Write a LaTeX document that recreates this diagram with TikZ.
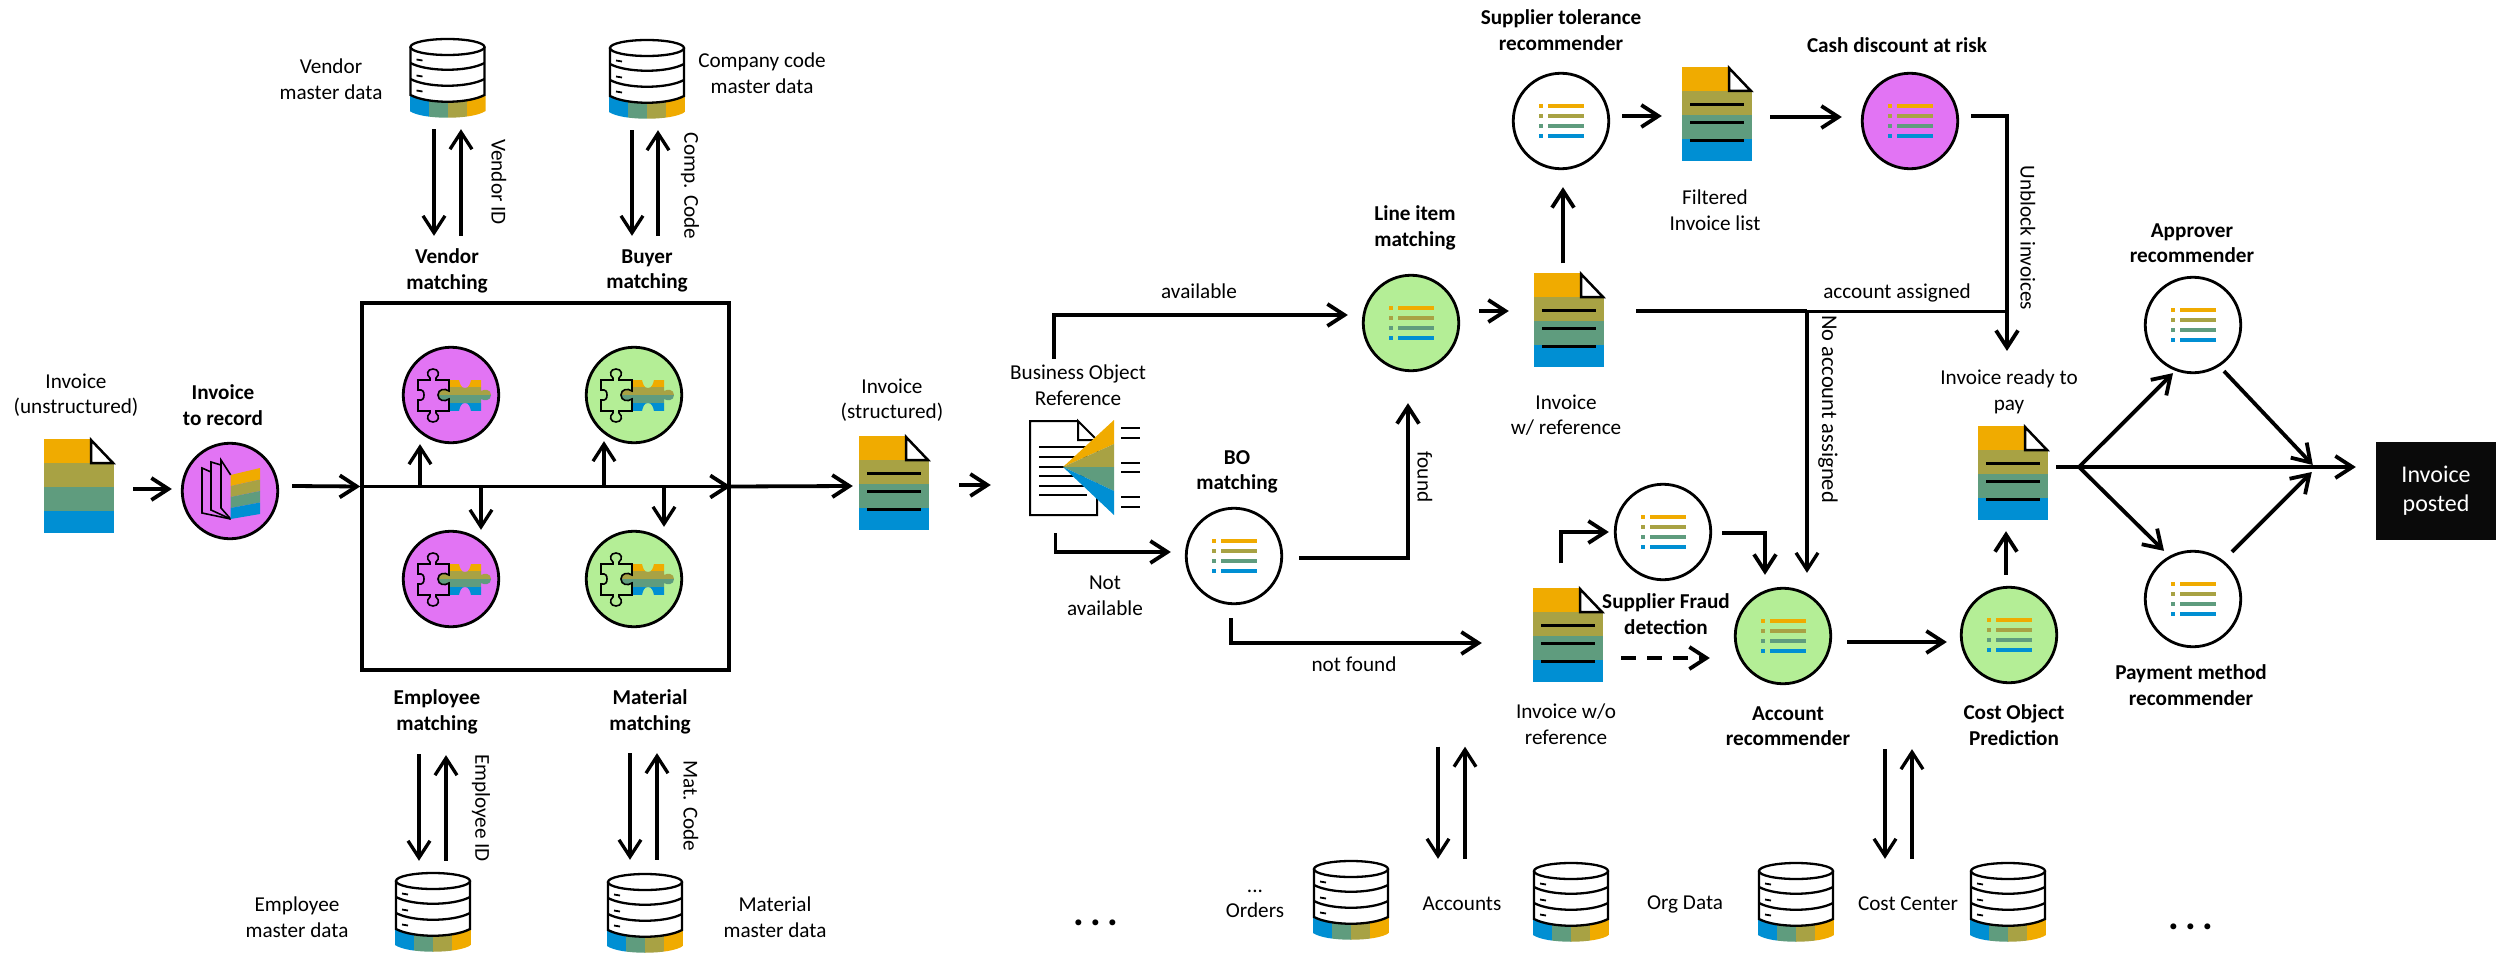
\documentclass[tikz,border=0pt]{standalone}
\usepackage{fontspec}
\setmainfont{Carlito}
\usetikzlibrary{arrows.meta}
\definecolor{sapOrange}{HTML}{F0AB00}
\definecolor{sapOlive}{HTML}{A8A244}
\definecolor{sapGreen}{HTML}{5F9C7E}
\definecolor{sapBlue}{HTML}{008FD3}
\definecolor{hlPink}{HTML}{E274F4}
\definecolor{hlGreen}{HTML}{B4EE96}
\tikzset {
    >={Straight Barb[length=17pt, width=22pt]},
    x=1pt,
    y=-1pt,
    flow/.style={->, line width=3.8pt},
    arrowthin/.style={->, line width=3.3pt},
    proc/.style={circle, draw, line width=2.8pt, minimum size=95.5pt, inner sep=0pt, fill=white},
    docbox/.style={minimum width=70pt, minimum height=93pt, inner sep=0pt},
    dbbox/.style={minimum width=76pt, minimum height=79pt, inner sep=0pt},
    lbl/.style={align=center, inner sep=0pt, font=\fontsize{21.2}{25.5}\selectfont},
    blbl/.style={align=center, inner sep=0pt, font=\bfseries\fontsize{21.2}{25.5}\selectfont},
    pics/docplain/.style={code={
        \fill[sapOrange] (-35,-47) rectangle (12,-23);
        \fill[sapOlive] (-35,-23) rectangle (35,1);
        \fill[sapGreen] (-35,1) rectangle (35,25);
        \fill[sapBlue] (-35,25) rectangle (35,47);
        \draw[line width=2.5pt, fill=white] (12,-46) -- (34,-23) -- (12,-23) -- cycle;
    }},
    pics/docicon/.style={code={
        \pic {docplain};
        \foreach \l in {-9.5,8.5,26.5}
            \draw[line width=3.6pt] (-27,\l) -- (27,\l);
    }},
    pics/listicon/.style={code={
        \foreach \l/\c in {-15/sapOrange,-5/sapOlive,5/sapGreen,15/sapBlue} {
            \fill[\c] (-22,\l-2) rectangle (-18,\l+2);
            \fill[\c] (-13,\l-2) rectangle (23,\l+2);
        }
    }},
    pics/dbicon/.style={code={
        \begin{scope}
            \clip (-38,57) -- (-38,72) .. controls (-25,81) and (25,81) .. (38,72) -- (38,57) -- cycle;
            \fill[sapBlue] (-38,50) rectangle (-19,85);
            \fill[sapGreen] (-19,50) rectangle (0,85);
            \fill[sapOlive] (0,50) rectangle (19,85);
            \fill[sapOrange] (19,50) rectangle (38,85);
        \end{scope}
        \draw[line width=2.3pt, fill=white] (-37,8) -- (-37,56) .. controls (-20,65) and (20,65) .. (37,56) -- (37,8);
        \draw[line width=2.3pt] (0,8) ellipse [x radius=37, y radius=8];
        \draw[line width=2.3pt] (-37,24) .. controls (-20,33) and (20,33) .. (37,24);
        \draw[line width=2.3pt] (-37,40) .. controls (-20,49) and (20,49) .. (37,40);
        \foreach \l in {21,37,52}
            \draw[line width=1.8pt] (-31,\l-0.5) -- (-25,\l+0.5);
    }},
    pics/puzzleicon/.style={code={
        \begin{scope}
            \clip (-2,-15) -- (8,-15) .. controls (9,-11) and (10,-7) .. (14,-7) .. controls (18,-7) and (19,-11) .. (20,-15) -- (30,-15) -- (30,-4) .. controls (33,-6) and (40,-6) .. (40,0) .. controls (40,6) and (33,6) .. (30,4) -- (30,16) -- (20,16) .. controls (19,12) and (18,8) .. (14,8) .. controls (10,8) and (9,12) .. (8,16) -- (-2,16) -- (-2,4) .. controls (-6,7) and (-13,6) .. (-13,0) .. controls (-13,-6) and (-6,-7) .. (-2,-4) -- cycle;
            \fill[sapOrange] (-14,-15) rectangle (41,-8);
            \fill[sapOlive] (-14,-8) rectangle (41,0);
            \fill[sapGreen] (-14,0) rectangle (41,8);
            \fill[sapBlue] (-14,8) rectangle (41,16);
        \end{scope}
        \draw[line width=1.6pt] (-33,-15) -- (-21,-15) -- (-21,-17) .. controls (-25,-20) and (-24,-26) .. (-18,-26) .. controls (-12,-26) and (-11,-20) .. (-15,-17) -- (-15,-15) -- (-2,-15) -- (-2,-4) .. controls (-6,-7) and (-13,-6) .. (-13,0) .. controls (-13,6) and (-6,7) .. (-2,4) -- (-2,16) -- (-15,16) -- (-15,18) .. controls (-11,21) and (-12,27) .. (-18,27) .. controls (-24,27) and (-25,21) .. (-21,18) -- (-21,16) -- (-33,16) -- (-33,5) .. controls (-28,6) and (-27,3) .. (-27,0) .. controls (-27,-3) and (-28,-6) .. (-33,-5) -- cycle;
    }},
    pics/recordicon/.style={code={
        \draw[line width=1.6pt] (0.7,-16) -- (-9,-31) -- (-9,17) -- (0.7,28);
        \draw[line width=1.6pt] (-9,-26) -- (-19,-29) -- (-19,19) -- (0.7,28);
        \draw[line width=1.6pt] (-19,-19) -- (-28,-23) -- (-28,22) -- (0.7,28);
        \fill[sapOrange] (0.7,-16) -- (30,-23) -- (30,-11.5) -- (0.7,-5) -- cycle;
        \fill[sapOlive] (0.7,-5) -- (30,-11.5) -- (30,0) -- (0.7,6) -- cycle;
        \fill[sapGreen] (0.7,6) -- (30,0) -- (30,11.5) -- (0.7,17) -- cycle;
        \fill[sapBlue] (0.7,17) -- (30,11.5) -- (30,23) -- (0.7,28) -- cycle;
    }},
    pics/bizicon/.style={code={
        \draw[line width=2pt] (15,-46) -- (-33,-46) -- (-33,48) -- (34,48) -- (34,-27) -- (15,-46) -- (15,-27) -- (34,-27);
        \foreach \l in {-20,-10,0,9,19,28}
            \draw[line width=2pt] (-24,\l) -- (24,\l);
        \fill[sapOrange] (0,0) -- (51,-47) -- (51,-23) -- cycle;
        \fill[sapOlive] (0,0) -- (51,-23) -- (51,0) -- cycle;
        \fill[sapGreen] (0,0) -- (51,0) -- (51,24) -- cycle;
        \fill[sapBlue] (0,0) -- (51,24) -- (51,48) -- cycle;
        \foreach \l in {-39,-29,-4,5,30,40}
            \draw[line width=2pt] (58,\l) -- (77,\l);
    }}
}

\begin{document}
\begin{tikzpicture}
    \useasboundingbox (0,0) rectangle (2504,955);

    % agents
    \foreach \n/\x/\y/\c in {cRecord/230/491/hlPink, cVendor/451/395/hlPink, cBuyer/634/395/hlGreen,
        cEmployee/451/579/hlPink, cMaterial/634/579/hlGreen, cBO/1234/556/white, cLine/1411/323/hlGreen,
        cSupplier/1561/121/white, cCash/1910/121/hlPink, cFraud/1663/532/white, cAccount/1783/636/hlGreen,
        cCost/2009/635/hlGreen, cApprover/2193/325/white, cPayment/2193/599/white}
        \node[proc, fill=\c] (\n) at (\x,\y) {};
    \foreach \n in {cBO, cLine, cSupplier, cCash, cFraud, cAccount, cCost, cApprover, cPayment}
        \pic at (\n) {listicon};
    \foreach \n in {cVendor, cBuyer, cEmployee, cMaterial}
        \pic at (\n) {puzzleicon};
    \pic at (cRecord) {recordicon};

    % documents
    \node[docbox] (dRaw) at (79,486) {};
    \pic at (dRaw) {docplain};
    \foreach \n/\x/\y in {dStruct/894/483, dWith/1569/320, dFiltered/1717/114, dWithout/1568/635, dReady/2013/473} {
        \node[docbox] (\n) at (\x,\y) {};
        \pic at (\n) {docicon};
    }
    \node[minimum width=67pt, minimum height=94pt, inner sep=0pt] (dBusiness) at (1063.5,468) {};
    \pic at (1063,467) {bizicon};

    % master data
    \foreach \n/\x/\y in {dbVendor/447.5/39, dbCompany/647/40, dbEmployee/433/873, dbMaterial/645/874,
        dbOrders/1351/861, dbAccounts/1571/863, dbOrg/1796/863, dbCost/2008/863} {
        \node[dbbox] (\n) at (\x,\y+39.5) {};
        \pic at (\x,\y) {dbicon};
    }

    \node[draw, line width=3.6pt, minimum size=367pt, inner sep=0pt] (bMatch) at (545.5,486.5) {};
    \node[fill=black!96, text=white, minimum width=120pt, minimum height=98pt, inner sep=0pt, align=center,
        font=\fontsize{24}{29}\selectfont] (bPosted) at (2436,491) {Invoice\\posted};

    \coordinate (jNo) at (1807,311);
    \coordinate (jAssigned) at (2007,311);
    \coordinate (jFork) at (2079,467);

    % labels
    \node[lbl] (tRaw) at (76,395) {Invoice\\(unstructured)};
    \node[blbl] (tRecord) at (223,405) {Invoice\\to record};
    \node[lbl] (tVendorDb) at (331,79) {Vendor\\master data};
    \node[lbl] (tCompanyDb) at (762,73) {Company code\\master data};
    \node[blbl] (tVendor) at (447,271) {Vendor\\matching};
    \node[blbl] (tBuyer) at (647,271) {Buyer\\matching};
    \node[blbl] (tEmployee) at (437,712) {Employee\\matching};
    \node[blbl] (tMaterial) at (650,712) {Material\\matching};
    \node[lbl] (tEmployeeDb) at (297,917) {Employee\\master data};
    \node[lbl] (tMaterialDb) at (775,917) {Material\\master data};
    \node[lbl, rotate=-90] (tVendorId) at (499,182) {Vendor ID};
    \node[lbl, rotate=-90] (tCompCode) at (690,186) {Comp. Code};
    \node[lbl, rotate=-90] (tEmployeeId) at (481,808) {Employee ID};
    \node[lbl, rotate=-90] (tMatCode) at (691,806) {Mat. Code};
    \node[lbl] (tStruct) at (892,400) {Invoice\\(structured)};
    \node[lbl] (tBusiness) at (1078,385) {Business Object\\Reference};
    \node[lbl] (tNotAvail) at (1105,596) {Not\\available};
    \node[blbl] (tBO) at (1237,472) {BO\\matching};
    \node[lbl] (tAvail) at (1199,291) {available};
    \node[lbl, rotate=-90] (tFound) at (1425,477) {found};
    \node[lbl] (tNotFound) at (1354,664) {not found};
    \node[blbl] (tLine) at (1415,228) {Line item\\matching};
    \node[lbl] (tWith) at (1566,415) {Invoice\\w/ reference};
    \node[blbl] (tSupplier) at (1561,30) {Supplier tolerance\\recommender};
    \node[lbl] (tFiltered) at (1715,210) {Filtered\\Invoice list};
    \node[blbl] (tCash) at (1897,45) {Cash discount at risk};
    \node[lbl] (tAssigned) at (1897,293) {account assigned};
    \node[lbl, rotate=-90] (tUnblock) at (2028,238) {Unblock invoices};
    \node[lbl, rotate=-90, font=\fontsize{22.5}{25.5}\selectfont] (tNoAccount) at (1828,409) {No account assigned};
    \node[blbl] (tFraud) at (1666,614) {Supplier Fraud\\detection};
    \node[lbl] (tWithout) at (1566,724) {Invoice w/o\\reference};
    \node[blbl] (tAccount) at (1788,726) {Account\\recommender};
    \node[blbl] (tCost) at (2014,725) {Cost Object\\Prediction};
    \node[lbl] (tReady) at (2009,392) {Invoice ready to\\pay};
    \node[blbl] (tApprover) at (2192,243) {Approver\\recommender};
    \node[blbl] (tPayment) at (2191,685) {Payment method\\recommender};
    \node[lbl] (tOrders) at (1255,904) {...\\Orders};
    \node[lbl] (tAccounts) at (1462,904) {Accounts};
    \node[lbl] (tOrg) at (1685,904) {Org Data};
    \node[lbl] (tCostDb) at (1908,904) {Cost Center};
    \node[font=\bfseries\fontsize{40}{40}\selectfont, inner sep=0pt] (tDotsA) at (1096,923) {.\hspace{6pt}.\hspace{6pt}.};
    \node[font=\bfseries\fontsize{40}{40}\selectfont, inner sep=0pt] (tDotsB) at (2191,927) {.\hspace{6pt}.\hspace{6pt}.};

    % left part
    \draw[flow] ([shift={(19,3)}]dRaw.east) -- ([shift={(-9,-2)}]cRecord.west);
    \draw[flow] ([shift={(13,-5)}]cRecord.east) -- (bMatch.west);
    \draw[flow] (bMatch.west) -- (bMatch.east);
    \draw[flow] (bMatch.east) -- ([shift={(-6,3)}]dStruct.west);
    \draw[arrowthin] ([xshift=-31]cVendor.south |- bMatch.west) -- ([xshift=-31]cVendor.south);
    \draw[arrowthin] ([xshift=-30]cBuyer.south |- bMatch.west) -- ([shift={(-30,-3)}]cBuyer.south);
    \draw[arrowthin] ([xshift=30]cEmployee.north |- bMatch.west) -- ([xshift=30]cEmployee.north);
    \draw[arrowthin] ([xshift=30]cMaterial.north |- bMatch.west) -- ([shift={(30,-3)}]cMaterial.north);

    \draw[arrowthin] ([shift={(-13.5,11)}]dbVendor.south) -- ([shift={(-17,-110)}]cVendor.north);
    \draw[arrowthin] ([shift={(10,-110)}]cVendor.north) -- ([shift={(13.5,11)}]dbVendor.south);
    \draw[arrowthin] ([shift={(-15,11)}]dbCompany.south) -- ([shift={(-2,-110)}]cBuyer.north);
    \draw[arrowthin] ([shift={(24,-110)}]cBuyer.north) -- ([shift={(11,11)}]dbCompany.south);
    \draw[arrowthin] ([shift={(-32,126)}]cEmployee.south) -- ([shift={(-14,-12)}]dbEmployee.north);
    \draw[arrowthin] ([shift={(13,-12)}]dbEmployee.north) -- ([shift={(-5,127)}]cEmployee.south);
    \draw[arrowthin] ([shift={(-4,125)}]cMaterial.south) -- ([shift={(-15,-14)}]dbMaterial.north);
    \draw[arrowthin] ([shift={(12,-14)}]dbMaterial.north) -- ([shift={(23,125)}]cMaterial.south);

    % middle part
    \draw[flow] ([shift={(30,2)}]dStruct.east) -- ([shift={(-39,17)}]dBusiness.west);
    \draw[flow] ([shift={(-24,-6)}]tBusiness.north) |- ([shift={(-14,-8)}]cLine.west);
    \draw[flow] ([shift={(-8,18)}]dBusiness.south) |- ([shift={(-14,-4)}]cBO.west);
    \draw[flow] ([shift={(16,2)}]cBO.east) -| ([shift={(-3,31)}]cLine.south);
    \draw[flow] ([shift={(-3,13)}]cBO.south) |- ([shift={(-51,8)}]dWithout.west);
    \draw[flow] ([shift={(19,-12)}]cLine.east) -- ([shift={(-25,-9)}]dWith.west);
    \draw[flow] ([shift={(-6,-10)}]dWith.north) -- ([shift={(2,17)}]cSupplier.south);
    \draw[flow] ([shift={(12,-5)}]cSupplier.east) -- ([shift={(-20,2)}]dFiltered.west);
    \draw[flow] ([shift={(18,3)}]dFiltered.east) -- ([shift={(-19,-4)}]cCash.west);
    \draw[flow] ([shift={(12,-5)}]cCash.east) -| ([shift={(-2,-19)}]tReady.north);
    \draw[line width=4pt] ([shift={(32,-9)}]dWith.east) -- (jNo);
    \draw[line width=3pt] (jNo) -- (jAssigned);
    \draw[arrowthin] (jNo) -- ([shift={(24,-14)}]cAccount.north);
    \draw[flow] ([shift={(-7,-25)}]dWithout.north) |- ([xshift=-5]cFraud.west);
    \draw[flow] ([shift={(10,1)}]cFraud.east) -| ([shift={(-18,-12)}]cAccount.north);
    \draw[flow, dash pattern=on 15pt off 11pt] ([shift={(18,23)}]dWithout.east) -- ([shift={(-24,22)}]cAccount.west);
    \draw[flow] ([shift={(15,6)}]cAccount.east) -- ([shift={(-13,7)}]cCost.west);
    \draw[arrowthin] ([shift={(-130,65)}]dWithout.south) -- ([shift={(-133,-4)}]dbAccounts.north);
    \draw[arrowthin] ([shift={(-106,-4)}]dbAccounts.north) -- ([shift={(-103,65)}]dWithout.south);
    \draw[arrowthin] ([shift={(-124,65)}]cCost.south) -- ([shift={(89,-4)}]dbOrg.north);
    \draw[arrowthin] ([shift={(116,-4)}]dbOrg.north) -- ([shift={(-97,65)}]cCost.south);

    % right part
    \draw[flow] ([shift={(-3,-11)}]cCost.north) -- ([shift={(-7,11.5)}]dReady.south);
    \draw[flow] ([shift={(8,-6)}]dReady.east) -- ([shift={(-20,-24)}]bPosted.west);
    \draw[flow] (jFork) -- ([shift={(-20,-1)}]cApprover.south);
    \draw[flow] (jFork) -- ([shift={(-29,1)}]cPayment.north);
    \draw[flow] ([shift={(31,-3)}]cApprover.south) -- ([shift={(-63,-26)}]bPosted.west);
    \draw[flow] ([shift={(39,2)}]cPayment.north) -- ([shift={(-64,-19)}]bPosted.west);
\end{tikzpicture}
\end{document}
